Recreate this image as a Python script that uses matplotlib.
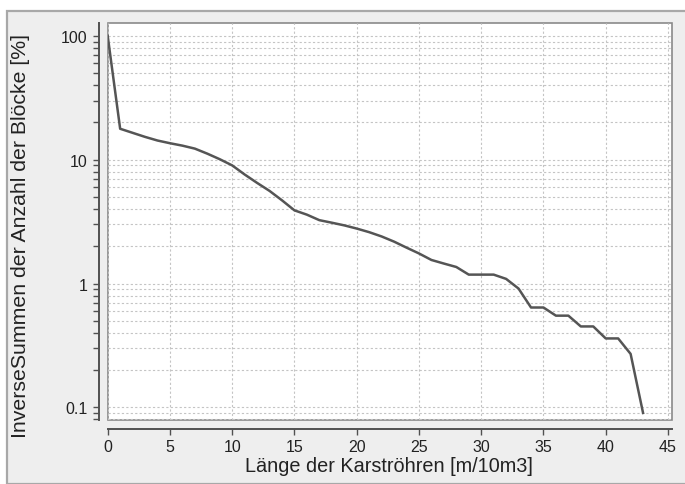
import matplotlib
matplotlib.use("Agg")
import matplotlib.pyplot as plt
from matplotlib.patches import Rectangle
from matplotlib.ticker import LogLocator, NullFormatter

# Länge der Karströhren (m/10m3) vs. inverse cumulative share of blocks (%)
laenge = list(range(44))
inverse_summen = [100, 17.8, 16.5, 15.3, 14.3, 13.6, 13.0, 12.3, 11.2, 10.1,
                  9.0, 7.6, 6.5, 5.6, 4.7, 3.9, 3.6, 3.25, 3.1, 2.95,
                  2.78, 2.6, 2.4, 2.18, 1.95, 1.75, 1.55, 1.45, 1.36, 1.18,
                  1.18, 1.18, 1.09, 0.91, 0.64, 0.64, 0.55, 0.55, 0.45, 0.45,
                  0.36, 0.36, 0.27, 0.09]

x_ticks = [0, 5, 10, 15, 20, 25, 30, 35, 40, 45]
y_ticks = [0.1, 1, 10, 100]
y_tick_labels = ["0.1", "1", "10", "100"]

plt.rcParams['font.family'] = ['Liberation Sans', 'DejaVu Sans']

W, H = 685, 485
fig = plt.figure(figsize=(W / 100, H / 100), dpi=100)
fig.patch.set_facecolor("white")

# outer chart panel
fig.patches.append(Rectangle((7 / W, 0), 1, (H - 12) / H, transform=fig.transFigure,
                             facecolor="#eeeeee", edgecolor="#a8a8a8", linewidth=1.6,
                             zorder=-1))

ax = fig.add_axes([107.7 / W, (H - 421.3) / H, 564 / W, 397 / H])
ax.set_zorder(1)
ax.set_facecolor("white")
ax.patch.set_edgecolor("#8a8a8a")
ax.patch.set_linewidth(1.2)

ax.plot(laenge, inverse_summen, color="#555555", linewidth=1.8, zorder=3)

ax.set_yscale("log")
ax.set_xlim(0, 45.3)
ax.set_ylim(0.0785, 126.6)

ax.set_xticks(x_ticks)
ax.set_yticks(y_ticks)
ax.set_yticklabels(y_tick_labels)
ax.yaxis.set_minor_locator(LogLocator(base=10, subs=range(2, 10)))
ax.yaxis.set_minor_formatter(NullFormatter())

grid_style = dict(color="#c4c4c4", linestyle=(0, (2, 2)), linewidth=0.8)
ax.grid(which="major", axis="both", **grid_style)
ax.grid(which="minor", axis="y", **grid_style)

for side in ["top", "right"]:
    ax.spines[side].set_visible(False)
for side in ["left", "bottom"]:
    ax.spines[side].set_position(("outward", 6.5))
    ax.spines[side].set_color("#505050")
    ax.spines[side].set_linewidth(1.4)

ax.tick_params(which="both", direction="out", length=4, width=1, color="#505050",
               labelsize=11.5, labelcolor="#222222")
ax.tick_params(axis="y", which="both", pad=4)
ax.tick_params(axis="x", pad=3)

fig.text(389 / W, (H - 467) / H, "Länge der Karströhren [m/10m3]", ha="center",
         va="center", fontsize=14.3, color="#222222")
fig.text(21 / W, (H - 236) / H, "InverseSummen der Anzahl der Blöcke [%]",
         rotation=90, ha="center", va="center", fontsize=15.3, color="#222222")

fig.savefig("out.png", dpi=100, facecolor=fig.get_facecolor())
